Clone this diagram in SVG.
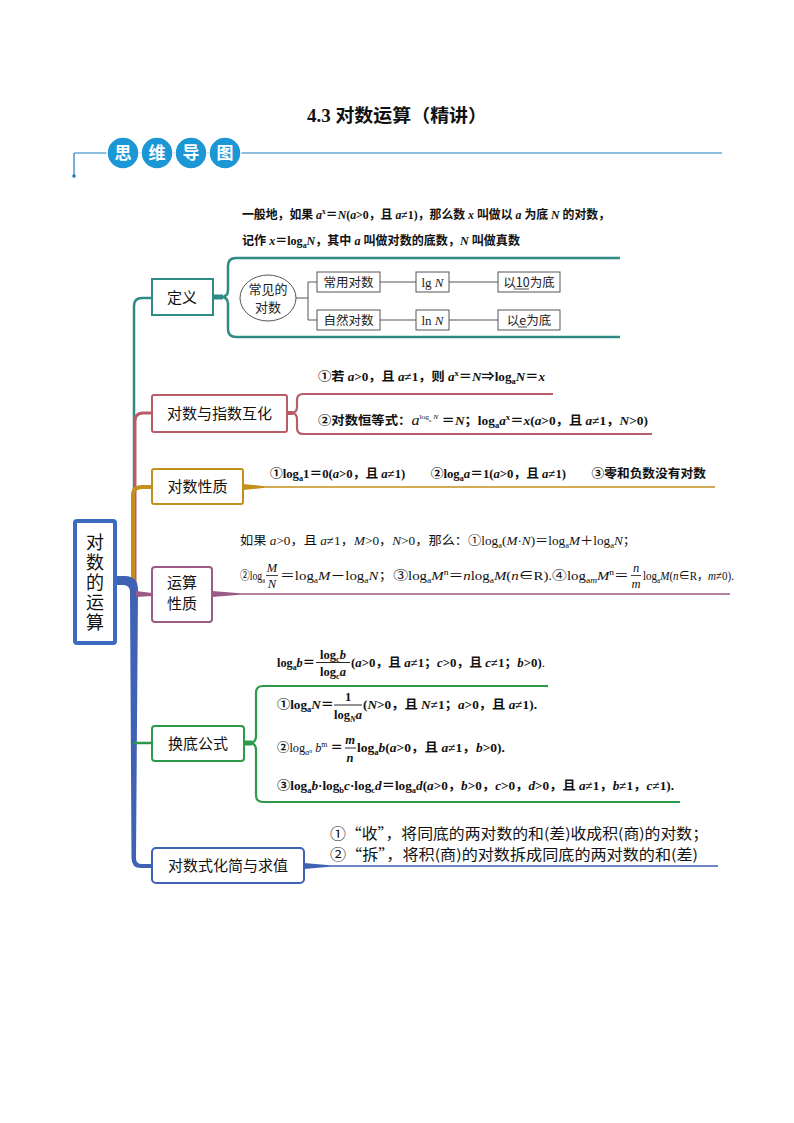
<svg xmlns="http://www.w3.org/2000/svg" width="794" height="1123" viewBox="0 0 794 1123">
<style>
.f{font-family:"Liberation Serif","Noto Sans CJK SC",serif;font-weight:bold;font-size:12.5px;fill:#111}
.fn{font-family:"Liberation Serif","Noto Sans CJK SC",serif;font-size:12.5px;fill:#111}
.i{font-style:italic}
.sb{font-size:8px;baseline-shift:-3px}
.sp{font-size:8px;baseline-shift:5px}
.bx{fill:#fff;stroke-width:2}
.bt{font-family:"Noto Sans CJK SC",sans-serif;font-size:15px;fill:#111;text-anchor:middle}
.st{font-family:"Noto Sans CJK SC",sans-serif;font-size:12.5px;fill:#222;text-anchor:middle}
.sbx{fill:#fff;stroke:#555;stroke-width:1}
.thin{stroke:#555;stroke-width:1;fill:none}
.hc{fill:#1b97d6;stroke:#fff;stroke-width:1.5}
.ht{font-family:"Noto Sans CJK SC",sans-serif;font-size:17px;font-weight:bold;fill:#fff;text-anchor:middle}
</style>

<!-- title & header -->
<g id="title">
<text x="397" y="122" text-anchor="middle" textLength="180" lengthAdjust="spacingAndGlyphs" style="font-family:'Liberation Serif','Noto Sans CJK SC',serif;font-weight:bold;font-size:18px;fill:#111">4.3 对数运算（精讲）</text>
</g>
<g id="header">
<line x1="74" y1="153" x2="722" y2="153" stroke="#1e7fc0" stroke-width="1.2"/>
<line x1="74" y1="153" x2="74" y2="175" stroke="#1e7fc0" stroke-width="1.2"/>
<circle cx="74" cy="176" r="1.8" fill="#1e7fc0"/>
<circle class="hc" cx="123" cy="153" r="16"/>
<circle class="hc" cx="157" cy="153" r="16"/>
<circle class="hc" cx="191" cy="153" r="16"/>
<circle class="hc" cx="225" cy="153" r="16"/>
<text class="ht" x="123" y="159">思</text>
<text class="ht" x="157" y="159">维</text>
<text class="ht" x="191" y="159">导</text>
<text class="ht" x="225" y="159">图</text>
</g>

<!-- connectors -->
<g id="connectors" fill="none">
<path d="M152,298 H142 Q134,298 134,306 V585" stroke="#2f8c85" stroke-width="2.5"/>
<path d="M152,413 H143 Q135,413 135,421 V585" stroke="#b85c6a" stroke-width="3"/>
<path d="M152,487 H142 Q133,487 133,495 V585" stroke="#c4901c" stroke-width="4"/>
<path d="M115,576 H125 Q138,576 138,590 L136,858 Q136,864 142,864 H152 V868 H141 Q131.5,868 131.5,858 L130,592 Q130,585 123,585 H115 Z" fill="#3f62b5" stroke="none"/>
<path d="M136,591 L152,593 V596 L136,597 Z" fill="#9a5b86"/>
<path d="M134,743 H152" stroke="#2b9a4b" stroke-width="2.5"/>
<!-- definition brace -->
<path d="M620,258 H236 Q228,258 228,266 V290 Q228,297 221,297 Q228,297 228,304 V329 Q228,337 236,337 H620" stroke="#2f8c85" stroke-width="2.5"/>
<line x1="213" y1="297" x2="223" y2="297" stroke="#2f8c85" stroke-width="5"/>
<!-- 互化 brace -->
<path d="M553,394 H303 Q297,394 297,400 V407 Q297,413 291,413 Q297,413 297,419 V428 Q297,434 303,434 H652" stroke="#b85c6a" stroke-width="2.2"/>
<line x1="287" y1="413" x2="293" y2="413" stroke="#b85c6a" stroke-width="4"/>
<!-- 性质 line -->
<path d="M243,484 L265,486.2 H715 V487.8 H265 L243,490 Z" fill="#c4901c"/>
<!-- 运算性质 line -->
<path d="M212,591 L240,593.2 H730 V594.8 H240 L212,597 Z" fill="#9a5b86"/>
<!-- 换底 brace -->
<path d="M548,686 H263 Q256,686 256,693 V736 Q256,743 249,743 Q256,743 256,750 V795 Q256,802 263,802 H680" stroke="#2b9a4b" stroke-width="2.2"/>
<line x1="244" y1="743" x2="252" y2="743" stroke="#2b9a4b" stroke-width="5"/>
<!-- 化简 line -->
<path d="M304,863 L330,865.2 H718 V866.8 H330 L304,869 Z" fill="#3f62b5"/>
</g>

<!-- main node -->
<g id="main">
<rect x="75" y="521" width="40" height="122" rx="2" fill="#fff" stroke="#3d6bbf" stroke-width="4"/>
<text class="bt" style="font-size:18px" x="95" y="549">对</text>
<text class="bt" style="font-size:18px" x="95" y="569">数</text>
<text class="bt" style="font-size:18px" x="95" y="589">的</text>
<text class="bt" style="font-size:18px" x="95" y="609">运</text>
<text class="bt" style="font-size:18px" x="95" y="629">算</text>
</g>

<!-- 定义 -->
<g id="n-dingyi">
<rect class="bx" x="152" y="279" width="61" height="36" stroke="#2f8c85"/>
<text class="bt" x="182" y="303">定义</text>
<text class="f" x="242" y="219" textLength="368" lengthAdjust="spacingAndGlyphs">一般地，如果 <tspan class="i">a</tspan><tspan class="sp">x</tspan>＝<tspan class="i">N</tspan>(<tspan class="i">a</tspan>&gt;0，且 <tspan class="i">a</tspan>≠1)，那么数 <tspan class="i">x</tspan> 叫做以 <tspan class="i">a</tspan> 为底 <tspan class="i">N</tspan> 的对数，</text>
<text class="f" x="242" y="245" textLength="278" lengthAdjust="spacingAndGlyphs">记作 <tspan class="i">x</tspan>＝log<tspan class="sb">a</tspan><tspan class="i">N</tspan>，其中 <tspan class="i">a</tspan> 叫做对数的底数，<tspan class="i">N</tspan> 叫做真数</text>
</g>
<g id="n-common">
<ellipse class="sbx" cx="268" cy="298" rx="28" ry="23"/>
<text class="st" x="268" y="294" style="font-size:13px">常见的</text>
<text class="st" x="268" y="312" style="font-size:13px">对数</text>
<path class="thin" d="M296,298 H308 M308,282 V320 M308,282 H317 M308,320 H317 M380,282 H416 M449,282 H498 M380,320 H416 M449,320 H498"/>
<rect class="sbx" x="317" y="272" width="63" height="20"/>
<text class="st" x="348.5" y="287">常用对数</text>
<rect class="sbx" x="416" y="272" width="33" height="20"/>
<text class="st" x="432.5" y="287" style="font-family:'Liberation Serif',serif;font-size:13px">lg <tspan font-style="italic">N</tspan></text>
<rect class="sbx" x="498" y="272" width="62" height="20"/>
<text class="st" x="529" y="287">以10为底</text>
<line x1="514" y1="289" x2="529" y2="289" stroke="#222" stroke-width="0.8"/>
<rect class="sbx" x="317" y="310" width="63" height="20"/>
<text class="st" x="348.5" y="325">自然对数</text>
<rect class="sbx" x="416" y="310" width="33" height="20"/>
<text class="st" x="432.5" y="325" style="font-family:'Liberation Serif',serif;font-size:13px">ln <tspan font-style="italic">N</tspan></text>
<rect class="sbx" x="498" y="310" width="62" height="20"/>
<text class="st" x="529" y="325">以e为底</text>
<line x1="518" y1="327" x2="527" y2="327" stroke="#222" stroke-width="0.8"/>
</g>

<!-- 对数与指数互化 -->
<g id="n-huhua">
<rect class="bx" x="152" y="395" width="135" height="37" rx="2" stroke="#b85c6a"/>
<text class="bt" x="219.5" y="419">对数与指数互化</text>
<text class="f" x="318" y="381" textLength="227" lengthAdjust="spacingAndGlyphs">①若 <tspan class="i">a</tspan>&gt;0，且 <tspan class="i">a</tspan>≠1，则 <tspan class="i">a</tspan><tspan class="sp">x</tspan>＝<tspan class="i">N</tspan>⇒log<tspan class="sb">a</tspan><tspan class="i">N</tspan>＝<tspan class="i">x</tspan></text>
<text class="f" x="318" y="425" textLength="330" lengthAdjust="spacingAndGlyphs">②对数恒等式：<tspan class="i" style="font-weight:normal;font-size:15px">a</tspan><tspan style="font-size:7px;font-weight:normal" baseline-shift="6">log</tspan><tspan style="font-size:5px;font-weight:normal" baseline-shift="3">a</tspan><tspan style="font-size:7px;font-weight:normal" baseline-shift="6" font-style="italic"> N</tspan> ＝<tspan class="i">N</tspan>；log<tspan class="sb">a</tspan><tspan class="i">a</tspan><tspan class="sp">x</tspan>＝<tspan class="i">x</tspan>(<tspan class="i">a</tspan>&gt;0，且 <tspan class="i">a</tspan>≠1，<tspan class="i">N</tspan>&gt;0)</text>
</g>

<!-- 对数性质 -->
<g id="n-xingzhi">
<rect class="bx" x="152" y="469" width="91" height="35" rx="2" stroke="#c4901c"/>
<text class="bt" x="197.5" y="492">对数性质</text>
<text class="f" x="270" y="478" textLength="436" lengthAdjust="spacingAndGlyphs">①log<tspan class="sb">a</tspan>1＝0(<tspan class="i">a</tspan>&gt;0，且 <tspan class="i">a</tspan>≠1)　　②log<tspan class="sb">a</tspan><tspan class="i">a</tspan>＝1(<tspan class="i">a</tspan>&gt;0，且 <tspan class="i">a</tspan>≠1)　　③零和负数没有对数</text>
</g>

<!-- 运算性质 -->
<g id="n-yunsuan">
<rect class="bx" x="152" y="567" width="60" height="55" rx="3" stroke="#9a5b86"/>
<text class="bt" x="182" y="588">运算</text>
<text class="bt" x="182" y="609">性质</text>
<text class="fn" x="240" y="545" textLength="396" lengthAdjust="spacingAndGlyphs">如果 <tspan class="i">a</tspan>&gt;0，且 <tspan class="i">a</tspan>≠1，<tspan class="i">M</tspan>&gt;0，<tspan class="i">N</tspan>&gt;0，那么：①log<tspan class="sb">a</tspan>(<tspan class="i">M</tspan>·<tspan class="i">N</tspan>)＝log<tspan class="sb">a</tspan><tspan class="i">M</tspan>＋log<tspan class="sb">a</tspan><tspan class="i">N</tspan>；</text>
<text class="fn" x="240" y="580" textLength="25" lengthAdjust="spacingAndGlyphs">②log<tspan class="sb">a</tspan></text>
<text class="fn i" x="272" y="572" text-anchor="middle">M</text>
<line x1="266" y1="575.5" x2="278" y2="575.5" stroke="#111" stroke-width="0.8"/>
<text class="fn i" x="272" y="588" text-anchor="middle">N</text>
<text class="fn" x="280" y="580" textLength="349" lengthAdjust="spacingAndGlyphs">＝log<tspan class="sb">a</tspan><tspan class="i">M</tspan>－log<tspan class="sb">a</tspan><tspan class="i">N</tspan>；③log<tspan class="sb">a</tspan><tspan class="i">M</tspan><tspan class="sp">n</tspan>＝<tspan class="i">n</tspan>log<tspan class="sb">a</tspan><tspan class="i">M</tspan>(<tspan class="i">n</tspan>∈R).④log<tspan class="sb">a<tspan class="i">m</tspan></tspan><tspan class="i">M</tspan><tspan class="sp">n</tspan>＝</text>
<text class="fn i" x="636" y="572" text-anchor="middle">n</text>
<line x1="631" y1="575.5" x2="641" y2="575.5" stroke="#111" stroke-width="0.8"/>
<text class="fn i" x="636" y="588" text-anchor="middle">m</text>
<text class="fn" x="643" y="580" textLength="91" lengthAdjust="spacingAndGlyphs">log<tspan class="sb">a</tspan><tspan class="i">M</tspan>(<tspan class="i">n</tspan>∈R，<tspan class="i">m</tspan>≠0).</text>
</g>

<!-- 换底公式 -->
<g id="n-huandi">
<rect class="bx" x="152" y="726" width="92" height="35" rx="3" stroke="#2b9a4b"/>
<text class="bt" x="198" y="749">换底公式</text>
<text class="f" x="277" y="667" textLength="38" lengthAdjust="spacingAndGlyphs">log<tspan class="sb">a</tspan><tspan class="i">b</tspan>＝</text>
<text class="f" x="333" y="659" text-anchor="middle">log<tspan class="sb">c</tspan><tspan class="i">b</tspan></text>
<line x1="316" y1="662.5" x2="350" y2="662.5" stroke="#111" stroke-width="0.9"/>
<text class="f" x="333" y="676" text-anchor="middle">log<tspan class="sb">c</tspan><tspan class="i">a</tspan></text>
<text class="f" x="351" y="667" textLength="194" lengthAdjust="spacingAndGlyphs">(<tspan class="i">a</tspan>&gt;0，且 <tspan class="i">a</tspan>≠1；<tspan class="i">c</tspan>&gt;0，且 <tspan class="i">c</tspan>≠1；<tspan class="i">b</tspan>&gt;0)<tspan font-weight="normal">.</tspan></text>

<text class="f" x="277" y="709" textLength="57" lengthAdjust="spacingAndGlyphs">①log<tspan class="sb">a</tspan><tspan class="i">N</tspan>＝</text>
<text class="f" x="348" y="701" text-anchor="middle">1</text>
<line x1="334" y1="705" x2="362" y2="705" stroke="#111" stroke-width="0.9"/>
<text class="f" x="348" y="719" text-anchor="middle">log<tspan class="sb i">N</tspan><tspan class="i">a</tspan></text>
<text class="f" x="363" y="709" textLength="174" lengthAdjust="spacingAndGlyphs">(<tspan class="i">N</tspan>&gt;0，且 <tspan class="i">N</tspan>≠1；<tspan class="i">a</tspan>&gt;0，且 <tspan class="i">a</tspan>≠1).</text>

<text class="f" x="277" y="752" textLength="66" lengthAdjust="spacingAndGlyphs">②<tspan font-weight="normal">log</tspan><tspan class="sb i" font-weight="normal">a</tspan><tspan style="font-size:6px" baseline-shift="-1" font-weight="normal" font-style="italic">n</tspan><tspan font-weight="normal"> </tspan><tspan class="i" font-weight="normal">b</tspan><tspan class="sp" font-weight="normal">m</tspan> ＝</text>
<text class="f i" x="350" y="744" text-anchor="middle">m</text>
<line x1="345" y1="748" x2="356" y2="748" stroke="#111" stroke-width="0.9"/>
<text class="f i" x="350" y="762" text-anchor="middle">n</text>
<text class="f" x="357" y="752" textLength="148" lengthAdjust="spacingAndGlyphs">log<tspan class="sb">a</tspan><tspan class="i">b</tspan>(<tspan class="i">a</tspan>&gt;0，且 <tspan class="i">a</tspan>≠1，<tspan class="i">b</tspan>&gt;0).</text>

<text class="f" x="277" y="790" textLength="397" lengthAdjust="spacingAndGlyphs">③log<tspan class="sb">a</tspan><tspan class="i">b</tspan>·log<tspan class="sb">b</tspan><tspan class="i">c</tspan>·log<tspan class="sb">c</tspan><tspan class="i">d</tspan>＝log<tspan class="sb">a</tspan><tspan class="i">d</tspan>(<tspan class="i">a</tspan>&gt;0，<tspan class="i">b</tspan>&gt;0，<tspan class="i">c</tspan>&gt;0，<tspan class="i">d</tspan>&gt;0，且 <tspan class="i">a</tspan>≠1，<tspan class="i">b</tspan>≠1，<tspan class="i">c</tspan>≠1).</text>
</g>

<!-- 对数式化简与求值 -->
<g id="n-huajian">
<rect class="bx" x="152" y="848" width="152" height="35" rx="4" stroke="#3f62b5"/>
<text class="bt" x="228" y="871">对数式化简与求值</text>
<text x="330" y="839" textLength="378" lengthAdjust="spacingAndGlyphs" style="font-family:'Noto Sans CJK SC',sans-serif;font-size:14.5px;fill:#111">①“收”，将同底的两对数的和(差)收成积(商)的对数；</text>
<text x="330" y="860" textLength="368" lengthAdjust="spacingAndGlyphs" style="font-family:'Noto Sans CJK SC',sans-serif;font-size:14.5px;fill:#111">②“拆”，将积(商)的对数拆成同底的两对数的和(差)</text>
</g>
</svg>
